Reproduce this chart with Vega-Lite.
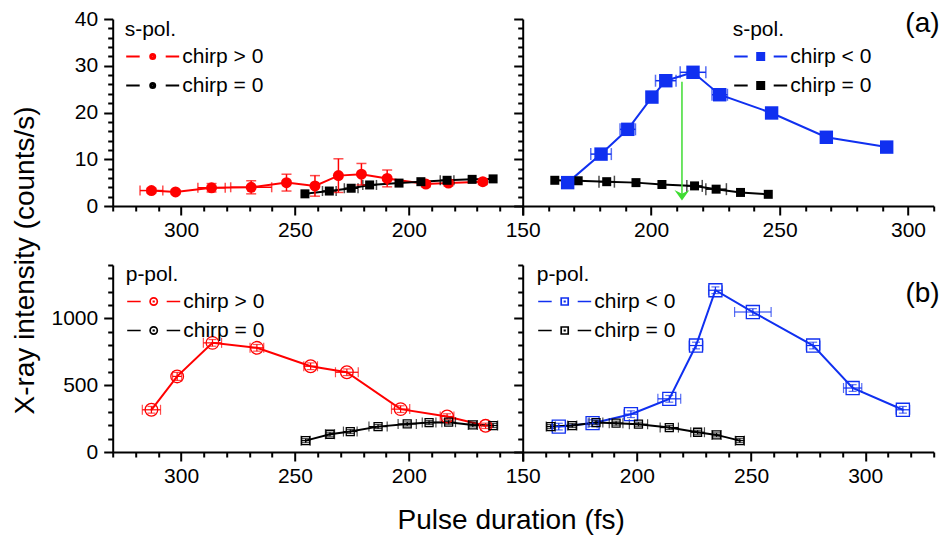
{
  "$schema": "https://vega.github.io/schema/vega-lite/v6.json",
  "background": "white",
  "autosize": {"type": "none"},
  "padding": {"left": 112.7, "top": 19, "right": 829.3, "bottom": 519},
  "bounds": "flush",
  "columns": 2,
  "spacing": {"row": 59, "column": 0},
  "resolve": {"scale": {"color": "independent"}, "legend": {"color": "independent"}},
  "datasets": {
    "sL": [
      {"series": "chirp > 0", "x": 313.0, "y": 3.3, "xe": 5, "ye": 0.5},
      {"series": "chirp > 0", "x": 302.4, "y": 3.0, "xe": 0, "ye": 0.4},
      {"series": "chirp > 0", "x": 286.6, "y": 3.9, "xe": 6, "ye": 0.9},
      {"series": "chirp > 0", "x": 269.2, "y": 4.0, "xe": 9, "ye": 1.4},
      {"series": "chirp > 0", "x": 253.7, "y": 5.0, "xe": 0, "ye": 1.8},
      {"series": "chirp > 0", "x": 241.2, "y": 4.3, "xe": 0, "ye": 2.2},
      {"series": "chirp > 0", "x": 230.9, "y": 6.5, "xe": 0, "ye": 3.6},
      {"series": "chirp > 0", "x": 220.8, "y": 6.8, "xe": 0, "ye": 2.3},
      {"series": "chirp > 0", "x": 209.5, "y": 5.9, "xe": 0, "ye": 1.8},
      {"series": "chirp > 0", "x": 192.5, "y": 4.7, "xe": 0, "ye": 0.6},
      {"series": "chirp > 0", "x": 182.6, "y": 4.9, "xe": 0, "ye": 0.6},
      {"series": "chirp > 0", "x": 167.5, "y": 5.2, "xe": 0, "ye": 0.6},
      {"series": "chirp = 0", "x": 245.6, "y": 2.6, "xe": 0, "ye": 0},
      {"series": "chirp = 0", "x": 234.9, "y": 3.2, "xe": 3, "ye": 0},
      {"series": "chirp = 0", "x": 225.3, "y": 3.8, "xe": 3, "ye": 0},
      {"series": "chirp = 0", "x": 217.2, "y": 4.5, "xe": 3, "ye": 0},
      {"series": "chirp = 0", "x": 204.3, "y": 4.9, "xe": 0, "ye": 0},
      {"series": "chirp = 0", "x": 194.7, "y": 5.2, "xe": 0, "ye": 0},
      {"series": "chirp = 0", "x": 183.2, "y": 5.5, "xe": 3, "ye": 0},
      {"series": "chirp = 0", "x": 172.2, "y": 5.7, "xe": 0, "ye": 0},
      {"series": "chirp = 0", "x": 163.0, "y": 5.8, "xe": 0, "ye": 0}
    ],
    "sR": [
      {"series": "chirp = 0", "x": 162.5, "y": 5.5, "xe": 0, "ye": 0},
      {"series": "chirp = 0", "x": 171.6, "y": 5.4, "xe": 0, "ye": 0},
      {"series": "chirp = 0", "x": 182.7, "y": 5.2, "xe": 3, "ye": 0},
      {"series": "chirp = 0", "x": 194.1, "y": 5.0, "xe": 0, "ye": 0},
      {"series": "chirp = 0", "x": 204.2, "y": 4.6, "xe": 0, "ye": 0},
      {"series": "chirp = 0", "x": 216.9, "y": 4.3, "xe": 3, "ye": 0},
      {"series": "chirp = 0", "x": 225.3, "y": 3.6, "xe": 4, "ye": 0},
      {"series": "chirp = 0", "x": 234.8, "y": 2.9, "xe": 0, "ye": 0},
      {"series": "chirp = 0", "x": 245.6, "y": 2.5, "xe": 0, "ye": 0},
      {"series": "chirp < 0", "x": 167.5, "y": 5.0, "xe": 0, "ye": 0.3},
      {"series": "chirp < 0", "x": 180.5, "y": 11.1, "xe": 4, "ye": 0.5},
      {"series": "chirp < 0", "x": 190.9, "y": 16.4, "xe": 3, "ye": 0.6},
      {"series": "chirp < 0", "x": 200.3, "y": 23.3, "xe": 0, "ye": 1.0},
      {"series": "chirp < 0", "x": 205.7, "y": 26.8, "xe": 4, "ye": 0.6},
      {"series": "chirp < 0", "x": 216.3, "y": 28.6, "xe": 5, "ye": 0.6},
      {"series": "chirp < 0", "x": 226.7, "y": 23.8, "xe": 3, "ye": 0.5},
      {"series": "chirp < 0", "x": 246.9, "y": 19.9, "xe": 2, "ye": 0.5},
      {"series": "chirp < 0", "x": 268.2, "y": 14.7, "xe": 0, "ye": 0.4},
      {"series": "chirp < 0", "x": 291.7, "y": 12.6, "xe": 0, "ye": 0.5}
    ],
    "pL": [
      {"series": "chirp > 0", "x": 313.0, "y": 316, "xe": 4, "ye": 25},
      {"series": "chirp > 0", "x": 301.7, "y": 566, "xe": 2, "ye": 30},
      {"series": "chirp > 0", "x": 286.2, "y": 817, "xe": 4, "ye": 25},
      {"series": "chirp > 0", "x": 266.7, "y": 780, "xe": 3, "ye": 25},
      {"series": "chirp > 0", "x": 243.1, "y": 642, "xe": 3, "ye": 25},
      {"series": "chirp > 0", "x": 227.2, "y": 597, "xe": 5, "ye": 25},
      {"series": "chirp > 0", "x": 203.6, "y": 321, "xe": 4, "ye": 25},
      {"series": "chirp > 0", "x": 183.2, "y": 266, "xe": 3, "ye": 20},
      {"series": "chirp > 0", "x": 166.3, "y": 196, "xe": 2, "ye": 20},
      {"series": "chirp = 0", "x": 245.3, "y": 85, "xe": 2, "ye": 15},
      {"series": "chirp = 0", "x": 234.6, "y": 133, "xe": 2, "ye": 15},
      {"series": "chirp = 0", "x": 225.7, "y": 153, "xe": 3, "ye": 15},
      {"series": "chirp = 0", "x": 213.5, "y": 190, "xe": 4, "ye": 15},
      {"series": "chirp = 0", "x": 200.7, "y": 210, "xe": 4, "ye": 15},
      {"series": "chirp = 0", "x": 191.1, "y": 220, "xe": 3, "ye": 15},
      {"series": "chirp = 0", "x": 182.5, "y": 223, "xe": 3, "ye": 15},
      {"series": "chirp = 0", "x": 171.9, "y": 203, "xe": 2, "ye": 15},
      {"series": "chirp = 0", "x": 163.0, "y": 198, "xe": 2, "ye": 15}
    ],
    "pR": [
      {"series": "chirp < 0", "x": 165.8, "y": 190, "xe": 3, "ye": 25},
      {"series": "chirp < 0", "x": 180.6, "y": 216, "xe": 2, "ye": 25},
      {"series": "chirp < 0", "x": 197.4, "y": 283, "xe": 3, "ye": 25},
      {"series": "chirp < 0", "x": 214.2, "y": 398, "xe": 5, "ye": 25},
      {"series": "chirp < 0", "x": 225.9, "y": 797, "xe": 3, "ye": 25},
      {"series": "chirp < 0", "x": 234.4, "y": 1211, "xe": 3, "ye": 25},
      {"series": "chirp < 0", "x": 250.8, "y": 1048, "xe": 8, "ye": 25},
      {"series": "chirp < 0", "x": 277.2, "y": 797, "xe": 3, "ye": 25},
      {"series": "chirp < 0", "x": 294.5, "y": 479, "xe": 4, "ye": 25},
      {"series": "chirp < 0", "x": 316.5, "y": 316, "xe": 3, "ye": 25},
      {"series": "chirp = 0", "x": 162.3, "y": 190, "xe": 2, "ye": 15},
      {"series": "chirp = 0", "x": 171.7, "y": 198, "xe": 2, "ye": 15},
      {"series": "chirp = 0", "x": 182.1, "y": 220, "xe": 3, "ye": 15},
      {"series": "chirp = 0", "x": 190.9, "y": 216, "xe": 3, "ye": 15},
      {"series": "chirp = 0", "x": 200.7, "y": 208, "xe": 4, "ye": 15},
      {"series": "chirp = 0", "x": 214.2, "y": 183, "xe": 4, "ye": 15},
      {"series": "chirp = 0", "x": 226.6, "y": 148, "xe": 3, "ye": 15},
      {"series": "chirp = 0", "x": 234.9, "y": 128, "xe": 2, "ye": 15},
      {"series": "chirp = 0", "x": 245.1, "y": 85, "xe": 2, "ye": 15}
    ]
  },
  "concat": [
    {
      "width": 410, "height": 187,
      "data": {"name": "sL"},
      "resolve": {"axis": {"x": "independent", "y": "independent"}, "legend": {"color": "independent"}},
      "layer": [
        {"mark": {"type": "line", "strokeWidth": 2},
         "encoding": {
           "x": {"field": "x", "type": "quantitative", "scale": {"domain": [150, 330], "reverse": true, "nice": false, "zero": false},
                 "axis": {"values": [150,160,170,180,190,200,210,220,230,240,250,260,270,280,290,300,310,320,330], "format": "d", "labelExpr": "datum.value % 50 === 0 && datum.value !== 150 ? datum.label : ''", "tickSize": {"condition": {"test": "datum.value % 50 === 0", "value": 9}, "value": 5}, "labelPadding": 4, "title": null}},
           "y": {"field": "y", "type": "quantitative", "scale": {"domain": [0, 40], "nice": false, "zero": false},
                 "axis": {"values": [0,2,4,6,8,10,12,14,16,18,20,22,24,26,28,30,32,34,36,38,40], "format": "d", "labelExpr": "datum.value % 10 === 0 ? datum.label : ''", "tickSize": {"condition": {"test": "datum.value % 10 === 0", "value": 9}, "value": 5}, "labelPadding": 6,
                          "title": "X-ray intensity (counts/s)", "titleX": -79, "titleY": 241, "titleAngle": 270, "titleAlign": "center", "titleBaseline": "alphabetic"}},
           "color": {"field": "series", "type": "nominal", "scale": {"domain": ["chirp > 0", "chirp = 0"], "range": ["#ff0000", "#000000"]},
                     "legend": {"orient": "none", "legendX": 12, "legendY": 0, "title": "s-pol.", "symbolType": "M-5.3,0L-2.6,0M2.6,0L5.3,0M-0.5,0A0.5,0.5,0,1,1,0.5,0A0.5,0.5,0,1,1,-0.5,0ZM-0.15,0A0.15,0.15,0,1,1,0.15,0A0.15,0.15,0,1,1,-0.15,0Z", "symbolSize": 100, "symbolStrokeWidth": 2, "symbolFillColor": "transparent", "symbolOffset": 17.5, "labelOffset": 19, "rowPadding": 7, "titlePadding": 6, "padding": 0}}
         }},
        {"transform": [{"filter": "datum.xe > 0"}], "mark": {"type": "errorbar", "ticks": {"size": 10, "thickness": 1.5}, "thickness": 1.5},
         "encoding": {"x": {"field": "x", "type": "quantitative", "axis": null}, "xError": {"field": "xe"}, "y": {"field": "y", "type": "quantitative", "axis": null}, "color": {"field": "series", "type": "nominal", "legend": null}}},
        {"transform": [{"filter": "datum.ye > 0"}], "mark": {"type": "errorbar", "ticks": {"size": 10, "thickness": 1.5}, "thickness": 1.5},
         "encoding": {"x": {"field": "x", "type": "quantitative", "axis": null}, "y": {"field": "y", "type": "quantitative", "axis": null}, "yError": {"field": "ye"}, "color": {"field": "series", "type": "nominal", "legend": null}}},
        {"mark": {"type": "point", "filled": true, "opacity": 1},
         "encoding": {
           "x": {"field": "x", "type": "quantitative", "axis": null},
           "y": {"field": "y", "type": "quantitative", "axis": null},
           "color": {"field": "series", "type": "nominal", "legend": null},
           "shape": {"condition": {"test": "datum.series === 'chirp = 0'", "value": "square"}, "value": "circle"},
           "size": {"condition": {"test": "datum.series === 'chirp = 0'", "value": 81}, "value": 121}
         }}
      ]
    },
    {
      "width": 411, "height": 187,
      "data": {"name": "sR"},
      "resolve": {"axis": {"x": "independent", "y": "independent"}, "legend": {"color": "independent"}},
      "layer": [
        {"mark": {"type": "line", "strokeWidth": 2},
         "encoding": {
           "x": {"field": "x", "type": "quantitative", "scale": {"domain": [150, 310], "nice": false, "zero": false},
                 "axis": {"values": [150,160,170,180,190,200,210,220,230,240,250,260,270,280,290,300,310], "format": "d", "labelExpr": "datum.value % 50 === 0 ? datum.label : ''", "tickSize": {"condition": {"test": "datum.value % 50 === 0", "value": 9}, "value": 5}, "labelPadding": 4, "title": null}},
           "y": {"field": "y", "type": "quantitative", "scale": {"domain": [0, 40], "nice": false, "zero": false},
                 "axis": {"values": [0,2,4,6,8,10,12,14,16,18,20,22,24,26,28,30,32,34,36,38,40], "labels": false, "tickSize": {"condition": {"test": "datum.value % 10 === 0", "value": 9}, "value": 5}, "title": null}},
           "color": {"field": "series", "type": "nominal", "scale": {"domain": ["chirp < 0", "chirp = 0"], "range": ["#1030f0", "#000000"]},
                     "legend": {"orient": "none", "legendX": 210, "legendY": 0, "title": "s-pol.", "symbolType": "M-5.3,0L-2.6,0M2.6,0L5.3,0M-0.7,-0.7L0.7,-0.7L0.7,0.7L-0.7,0.7ZM-0.35,-0.35L0.35,-0.35L0.35,0.35L-0.35,0.35ZM-0.05,-0.05L0.05,-0.05L0.05,0.05L-0.05,0.05Z", "symbolSize": 100, "symbolStrokeWidth": 2, "symbolFillColor": "transparent", "symbolOffset": 17.5, "labelOffset": 19, "rowPadding": 7, "titlePadding": 6, "padding": 0}}
         }},
        {"transform": [{"filter": "datum.xe > 0"}], "mark": {"type": "errorbar", "ticks": {"size": 12, "thickness": 1.5}, "thickness": 1.5},
         "encoding": {"x": {"field": "x", "type": "quantitative", "axis": null}, "xError": {"field": "xe"}, "y": {"field": "y", "type": "quantitative", "axis": null}, "color": {"field": "series", "type": "nominal", "legend": null}}},
        {"transform": [{"filter": "datum.ye > 0"}], "mark": {"type": "errorbar", "ticks": {"size": 12, "thickness": 1.5}, "thickness": 1.5},
         "encoding": {"x": {"field": "x", "type": "quantitative", "axis": null}, "y": {"field": "y", "type": "quantitative", "axis": null}, "yError": {"field": "ye"}, "color": {"field": "series", "type": "nominal", "legend": null}}},
        {"mark": {"type": "point", "filled": true, "opacity": 1},
         "encoding": {
           "x": {"field": "x", "type": "quantitative", "axis": null},
           "y": {"field": "y", "type": "quantitative", "axis": null},
           "color": {"field": "series", "type": "nominal", "legend": null},
           "shape": {"value": "square"},
           "size": {"condition": {"test": "datum.series === 'chirp = 0'", "value": 81}, "value": 180}
         }},
        {"data": {"values": [{"note": "arrow"}]}, "mark": {"type": "rule", "color": "#3fdc32", "strokeWidth": 1.5},
         "encoding": {"x": {"datum": 212, "axis": null}, "y": {"datum": 26.6, "axis": null}, "y2": {"datum": 2.5}}},
        {"data": {"values": [{"note": "arrow"}]}, "mark": {"type": "point", "filled": true, "opacity": 1, "color": "#3fdc32", "size": 225, "shape": "M0,0L-1,-1.4L0,-0.9L1,-1.4Z"},
         "encoding": {"x": {"datum": 212, "axis": null}, "y": {"datum": 1.2, "axis": null}}},
        {"data": {"values": [{"note": "(a)"}]}, "mark": {"type": "text", "font": "Liberation Sans", "fontSize": 28, "align": "right", "baseline": "alphabetic", "color": "#000000"},
         "encoding": {"x": {"datum": 312.3, "axis": null}, "y": {"datum": 37.3, "axis": null}, "text": {"field": "note"}}}
      ]
    },
    {
      "width": 410, "height": 187,
      "data": {"name": "pL"},
      "resolve": {"axis": {"x": "independent", "y": "independent"}, "legend": {"color": "independent"}},
      "layer": [
        {"mark": {"type": "line", "strokeWidth": 2},
         "encoding": {
           "x": {"field": "x", "type": "quantitative", "scale": {"domain": [150, 330], "reverse": true, "nice": false, "zero": false},
                 "axis": {"values": [150,160,170,180,190,200,210,220,230,240,250,260,270,280,290,300,310,320,330], "format": "d", "labelExpr": "datum.value % 50 === 0 && datum.value !== 150 ? datum.label : ''", "tickSize": {"condition": {"test": "datum.value % 50 === 0", "value": 9}, "value": 5}, "labelPadding": 4,
                          "title": "Pulse duration (fs)", "titleX": 398, "titleY": 76, "titleAlign": "center", "titleBaseline": "alphabetic"}},
           "y": {"field": "y", "type": "quantitative", "scale": {"domain": [0, 1400], "nice": false, "zero": false},
                 "axis": {"values": [0,100,200,300,400,500,600,700,800,900,1000,1100,1200,1300,1400], "format": "d", "labelExpr": "datum.value % 500 === 0 ? datum.label : ''", "tickSize": {"condition": {"test": "datum.value % 500 === 0", "value": 9}, "value": 5}, "labelPadding": 6, "title": null}},
           "color": {"field": "series", "type": "nominal", "scale": {"domain": ["chirp > 0", "chirp = 0"], "range": ["#ff0000", "#000000"]},
                     "legend": {"orient": "none", "legendX": 13, "legendY": -1, "title": "p-pol.", "symbolType": "M-5.3,0L-2.6,0M2.6,0L5.3,0M-0.72,0A0.72,0.72,0,1,1,0.72,0A0.72,0.72,0,1,1,-0.72,0ZM-0.05,-0.05L0.05,-0.05L0.05,0.05L-0.05,0.05Z", "symbolSize": 100, "symbolStrokeWidth": 1.7, "symbolFillColor": "transparent", "symbolOffset": 17.5, "labelOffset": 19, "rowPadding": 7, "titlePadding": 6, "padding": 0}}
         }},
        {"transform": [{"filter": "datum.xe > 0"}], "mark": {"type": "errorbar", "ticks": {"size": 10, "thickness": 1.2}, "thickness": 1.2},
         "encoding": {"x": {"field": "x", "type": "quantitative", "axis": null}, "xError": {"field": "xe"}, "y": {"field": "y", "type": "quantitative", "axis": null}, "color": {"field": "series", "type": "nominal", "legend": null}}},
        {"transform": [{"filter": "datum.ye > 0"}], "mark": {"type": "errorbar", "ticks": {"size": 8, "thickness": 1.2}, "thickness": 1.2},
         "encoding": {"x": {"field": "x", "type": "quantitative", "axis": null}, "y": {"field": "y", "type": "quantitative", "axis": null}, "yError": {"field": "ye"}, "color": {"field": "series", "type": "nominal", "legend": null}}},
        {"mark": {"type": "point", "filled": false, "opacity": 1, "strokeWidth": 1.3},
         "encoding": {
           "x": {"field": "x", "type": "quantitative", "axis": null},
           "y": {"field": "y", "type": "quantitative", "axis": null},
           "color": {"field": "series", "type": "nominal", "legend": null},
           "shape": {"condition": {"test": "datum.series === 'chirp = 0'", "value": "square"}, "value": "circle"},
           "size": {"condition": {"test": "datum.series === 'chirp = 0'", "value": 64}, "value": 160}
         }},
        {"mark": {"type": "point", "filled": true, "opacity": 1, "size": 3, "shape": "circle"},
         "encoding": {"x": {"field": "x", "type": "quantitative", "axis": null}, "y": {"field": "y", "type": "quantitative", "axis": null}, "color": {"field": "series", "type": "nominal", "legend": null}}}
      ]
    },
    {
      "width": 411, "height": 187,
      "data": {"name": "pR"},
      "resolve": {"axis": {"x": "independent", "y": "independent"}, "legend": {"color": "independent"}},
      "layer": [
        {"mark": {"type": "line", "strokeWidth": 2},
         "encoding": {
           "x": {"field": "x", "type": "quantitative", "scale": {"domain": [150, 330], "nice": false, "zero": false},
                 "axis": {"values": [150,160,170,180,190,200,210,220,230,240,250,260,270,280,290,300,310,320,330], "format": "d", "labelExpr": "datum.value % 50 === 0 ? datum.label : ''", "tickSize": {"condition": {"test": "datum.value % 50 === 0", "value": 9}, "value": 5}, "labelPadding": 4, "title": null}},
           "y": {"field": "y", "type": "quantitative", "scale": {"domain": [0, 1400], "nice": false, "zero": false},
                 "axis": {"values": [0,100,200,300,400,500,600,700,800,900,1000,1100,1200,1300,1400], "labels": false, "tickSize": {"condition": {"test": "datum.value % 500 === 0", "value": 9}, "value": 5}, "title": null}},
           "color": {"field": "series", "type": "nominal", "scale": {"domain": ["chirp < 0", "chirp = 0"], "range": ["#1030f0", "#000000"]},
                     "legend": {"orient": "none", "legendX": 14, "legendY": -1, "title": "p-pol.", "symbolType": "M-5.3,0L-2.6,0M2.6,0L5.3,0M-0.7,-0.7L0.7,-0.7L0.7,0.7L-0.7,0.7ZM-0.05,-0.05L0.05,-0.05L0.05,0.05L-0.05,0.05Z", "symbolSize": 100, "symbolStrokeWidth": 1.7, "symbolFillColor": "transparent", "symbolOffset": 17.5, "labelOffset": 19, "rowPadding": 7, "titlePadding": 6, "padding": 0}}
         }},
        {"transform": [{"filter": "datum.xe > 0"}], "mark": {"type": "errorbar", "ticks": {"size": 10, "thickness": 1.2}, "thickness": 1.2},
         "encoding": {"x": {"field": "x", "type": "quantitative", "axis": null}, "xError": {"field": "xe"}, "y": {"field": "y", "type": "quantitative", "axis": null}, "color": {"field": "series", "type": "nominal", "legend": null}}},
        {"transform": [{"filter": "datum.ye > 0"}], "mark": {"type": "errorbar", "ticks": {"size": 8, "thickness": 1.2}, "thickness": 1.2},
         "encoding": {"x": {"field": "x", "type": "quantitative", "axis": null}, "y": {"field": "y", "type": "quantitative", "axis": null}, "yError": {"field": "ye"}, "color": {"field": "series", "type": "nominal", "legend": null}}},
        {"mark": {"type": "point", "filled": false, "opacity": 1, "strokeWidth": 1.3},
         "encoding": {
           "x": {"field": "x", "type": "quantitative", "axis": null},
           "y": {"field": "y", "type": "quantitative", "axis": null},
           "color": {"field": "series", "type": "nominal", "legend": null},
           "shape": {"value": "square"},
           "size": {"condition": {"test": "datum.series === 'chirp = 0'", "value": 64}, "value": 170}
         }},
        {"mark": {"type": "point", "filled": true, "opacity": 1, "size": 3, "shape": "circle"},
         "encoding": {"x": {"field": "x", "type": "quantitative", "axis": null}, "y": {"field": "y", "type": "quantitative", "axis": null}, "color": {"field": "series", "type": "nominal", "legend": null}}},
        {"data": {"values": [{"note": "(b)"}]}, "mark": {"type": "text", "font": "Liberation Sans", "fontSize": 28, "align": "right", "baseline": "alphabetic", "color": "#000000"},
         "encoding": {"x": {"datum": 332.6, "axis": null}, "y": {"datum": 1120, "axis": null}, "text": {"field": "note"}}}
      ]
    }
  ],
  "config": {
    "font": "Liberation Sans",
    "view": {"stroke": null},
    "axis": {"grid": false, "domainColor": "#000000", "domainWidth": 2, "tickColor": "#000000", "tickWidth": 2, "labelFont": "Liberation Sans", "labelFontSize": 21, "labelColor": "#000000", "labelFlush": false, "labelOverlap": false, "labelBound": false, "titleFont": "Liberation Sans", "titleFontSize": 28, "titleFontWeight": "normal", "titleColor": "#000000"},
    "legend": {"titleFont": "Liberation Sans", "titleFontSize": 21, "titleFontWeight": "normal", "titleColor": "#000000", "labelFont": "Liberation Sans", "labelFontSize": 21, "labelColor": "#000000", "titleAnchor": "start", "titleBaseline": "top", "titleLimit": 0, "labelLimit": 0}
  }
}
